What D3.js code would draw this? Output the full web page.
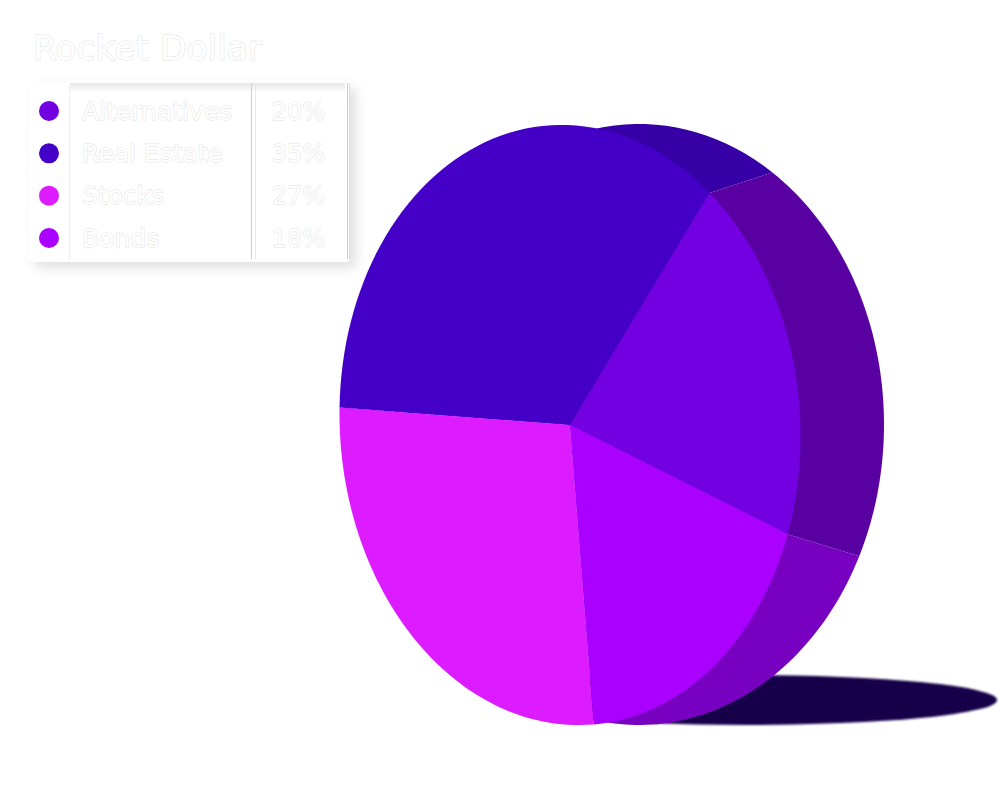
<!DOCTYPE html>
<html><head><meta charset="utf-8">
<script src="https://cdnjs.cloudflare.com/ajax/libs/d3/7.8.5/d3.min.js"></script>
<style>
html,body{margin:0;padding:0;background:#fff;}
svg{display:block;}
text{font-family:"DejaVu Sans",sans-serif;fill:#fff;stroke:#e2e2e2;stroke-width:1px;paint-order:stroke;}
</style></head><body>
<svg id="c" width="1000" height="805"></svg>
<script>
const titleText = "Rocket Dollar";
const categories = ["Alternatives","Real Estate","Stocks","Bonds"];
const shares = [20,35,27,18];
const faceColors = ["#7200e0","#4500c8","#dc1cff","#aa00ff"];
const rimColors  = ["#5900a3","#3700a6","#7c00c4","#7800c0"];

const svg = d3.select("#c");
const defs = svg.append("defs");
const blur = defs.append("filter").attr("id","blur").attr("x","-10%").attr("y","-30%").attr("width","120%").attr("height","160%");
blur.append("feGaussianBlur").attr("stdDeviation",0.8);
const sh = defs.append("filter").attr("id","panel").attr("x","-10%").attr("y","-10%").attr("width","125%").attr("height","130%");
sh.append("feDropShadow").attr("dx",6).attr("dy",6).attr("stdDeviation",6).attr("flood-color","#000").attr("flood-opacity",.12);
const ish = defs.append("linearGradient").attr("id","ins").attr("x1",0).attr("x2",0).attr("y1",0).attr("y2",1);
ish.append("stop").attr("offset",0).attr("stop-color","#000").attr("stop-opacity",.09);
ish.append("stop").attr("offset",1).attr("stop-color","#000").attr("stop-opacity",0);

// ground shadow
svg.append("ellipse").attr("cx",745).attr("cy",700).attr("rx",252).attr("ry",25)
  .attr("fill","#17004a").attr("filter","url(#blur)");

// pie: slices run counter-clockwise from the lower right
const toRad = d => d*Math.PI/180;
const pie = d3.pie().sort(null).startAngle(toRad(110)).endAngle(toRad(110-360));
const slices = pie(shares).map(s => s.endAngle < toRad(-180)
  ? {...s, startAngle:s.startAngle+2*Math.PI, endAngle:s.endAngle+2*Math.PI} : s);

// front and back faces as sheared ellipses
const front = {cx:570,cy:425,rx:230.5,ry:300,sx:3,tilt:7};
const back  = {cx:639,cy:424.5,rx:245,ry:300.5,sx:0,tilt:0};
const pt = (f,a) => {
  const u = Math.sin(a), v = -Math.cos(a);
  return [f.cx + f.rx*u + f.sx*v, f.cy + f.ry*v + f.tilt*u];
};
const backAngle = d3.scaleLinear().domain([toRad(38),toRad(110)]).range([toRad(33),toRad(116)]);
const line = d3.line();
const arcPts = (f,a0,a1) => d3.range(0,61).map(i => pt(f,a0+(a1-a0)*i/60));

// rim (drawn below the face)
[1,3,0].forEach(i => {
  const s = slices[i];
  const b = arcPts(back,backAngle(s.startAngle),backAngle(s.endAngle));
  const p = [...b, pt(front,s.endAngle), [front.cx,front.cy], pt(front,s.startAngle)];
  svg.append("path").attr("d",line(p)+"Z").attr("fill",rimColors[i]);
});
// front face
slices.forEach((s,i) => {
  const p = [[front.cx,front.cy], ...arcPts(front,s.startAngle,s.endAngle)];
  svg.append("path").attr("d",line(p)+"Z").attr("fill",faceColors[i]);
});

// title
svg.append("text").attr("x",33).attr("y",60).attr("font-size",34.5).text(titleText);

// legend panel
const L = svg.append("g");
L.append("rect").attr("x",29).attr("y",82).attr("width",321).attr("height",180).attr("rx",4).attr("fill","#fff").attr("filter","url(#panel)");
L.append("rect").attr("x",70).attr("y",83).attr("width",275).attr("height",10).attr("fill","url(#ins)");
[[69,"#eeeeee"],[251,"#cccccc"],[255,"#e8e8e8"],[347,"#cccccc"],[349,"#dddddd"]].forEach(([x,c]) =>
  L.append("line").attr("x1",x+.5).attr("x2",x+.5).attr("y1",83).attr("y2",259).attr("stroke",c));
const rowY = d3.scalePoint().domain(categories).range([111,238]);
categories.forEach((c,i) => {
  const y = rowY(c);
  L.append("circle").attr("cx",49).attr("cy",y).attr("r",10).attr("fill",faceColors[i]);
  L.append("text").attr("x",82).attr("y",y+8.5).attr("font-size",25).text(c);
  L.append("text").attr("x",325).attr("y",y+8.5).attr("font-size",24).attr("text-anchor","end").text(shares[i]+"%");
});
</script></body></html>
